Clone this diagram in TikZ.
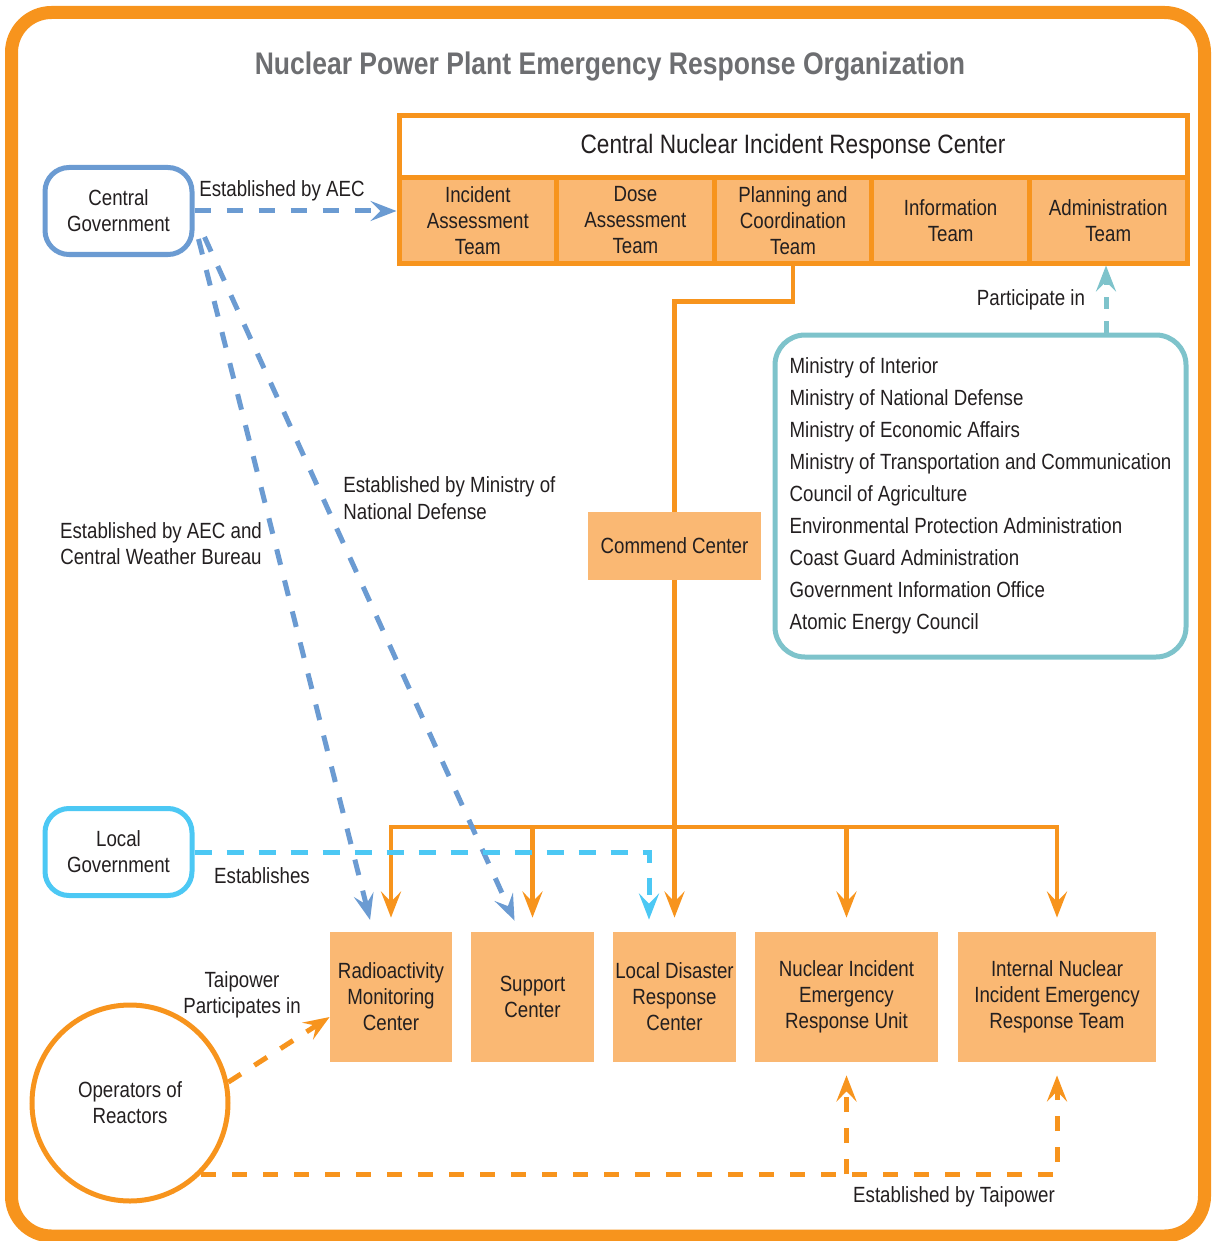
\documentclass[tikz,border=0pt]{standalone}
\usepackage{fontspec}
\setmainfont[FakeStretch=0.85]{Liberation Sans}
\usetikzlibrary{arrows.meta,calc}
\definecolor{orng}{HTML}{F7941D}
\definecolor{lorng}{HTML}{FAB873}
\definecolor{cblue}{HTML}{6B9BD2}
\definecolor{ccyan}{HTML}{4CC8F4}
\definecolor{cteal}{HTML}{7EC3CB}
\definecolor{tgray}{HTML}{6D6E71}
\definecolor{txt}{HTML}{231F20}
\tikzset{
  every node/.style={font=\fontsize{11pt}{13pt}\selectfont, text=txt, inner sep=0pt, align=center},
  teambox/.style={draw=orng, fill=lorng, line width=2.5pt, minimum width=78.8pt, minimum height=42.5pt},
  lowbox/.style={fill=lorng, minimum height=65pt},
  govbox/.style={line width=2.5pt, rounded corners=12pt, minimum width=73.5pt, minimum height=43.5pt, fill=white},
  tip/.style={-{Stealth[length=13pt, width=10pt, inset=5pt]}},
  solidor/.style={draw=orng, line width=2.2pt, tip, color=orng},
  bluedash/.style={cblue, line width=2.5pt, dash pattern=on 8pt off 8pt, tip},
  cyandash/.style={ccyan, line width=2.5pt, dash pattern=on 8.5pt off 7.5pt, tip},
  ordash/.style={orng, line width=2.5pt, dash pattern=on 7.5pt off 8pt, tip},
  tealdash/.style={cteal, line width=2.5pt, dash pattern=on 6pt off 6pt, tip}
}
\begin{document}
\begin{tikzpicture}[x=0.5pt,y=-0.5pt]
\useasboundingbox (0,0) rectangle (1211,1241);
\draw[orng, line width=6.5pt, rounded corners=20pt] (11.5,12.5) rectangle (1204.5,1236);

\node[font=\fontsize{15.6pt}{18pt}\selectfont\bfseries, text=tgray] (title) at (610,67) {Nuclear Power Plant Emergency Response Organization};

% Central center
\node[draw=orng, line width=2.5pt, fill=white, minimum width=394pt, minimum height=31pt, font=\fontsize{13.3pt}{15pt}\selectfont] (crc) at (793,147) {Central Nuclear Incident Response Center};
\node[teambox] (t1) at (477.8,220.5) {Incident\\Assessment\\Team};
\node[teambox] (t2) at (635.4,220.5) {Dose\\Assessment\\Team};
\node[teambox] (t3) at (793,220.5) {Planning and\\Coordination\\Team};
\node[teambox] (t4) at (950.6,220.5) {Information\\Team};
\node[teambox] (t5) at (1108.2,220.5) {Administration\\Team};

% governments
\node[govbox, draw=cblue] (cg) at (118.5,211) {Central\\Government};
\node[govbox, draw=ccyan] (lg) at (118.5,852) {Local\\Government};

% ministry list
\node[draw=cteal, line width=2.5pt, rounded corners=15pt, minimum width=205.5pt, minimum height=161pt, align=left, font=\fontsize{11pt}{16pt}\selectfont] (min) at (980.5,496) {Ministry of Interior\\Ministry of National Defense\\Ministry of Economic Affairs\\Ministry of Transportation and Communication\\Council of Agriculture\\Environmental Protection Administration\\Coast Guard Administration\\Government Information Office\\Atomic Energy Council};

% commend center
\node[fill=lorng, minimum width=86.5pt, minimum height=34pt] (cc) at (674.5,546) {Commend Center};

% lower boxes
\node[lowbox, minimum width=61pt] (rmc) at (391,997) {Radioactivity\\Monitoring\\Center};
\node[lowbox, minimum width=61.5pt] (sc) at (532.5,997) {Support\\Center};
\node[lowbox, minimum width=61.5pt] (ldrc) at (674.5,997) {Local Disaster\\Response\\Center};
\node[lowbox, minimum width=91.5pt] (unit) at (846.5,997) {Nuclear Incident\\Emergency\\Response Unit};
\node[lowbox, minimum width=99pt] (team) at (1057,997) {Internal Nuclear\\Incident Emergency\\Response Team};

% operators
\node[circle, draw=orng, line width=2.5pt, minimum size=98pt] (op) at (130,1103) {Operators of\\Reactors};

% labels
\node (l1) at (282,191) {Established by AEC};
\node[anchor=west, align=left, font=\fontsize{11pt}{13.5pt}\selectfont] (l2) at (343,498) {Established by Ministry of\\National Defense};
\node (l3) at (161,544) {Established by AEC and\\Central Weather Bureau};
\node (l4) at (242,995) {Taipower\\Participates in};
\node (l5) at (1031,300) {Participate in};
\node (l6) at (262,876) {Establishes};
\node (l7) at (954,1197) {Established by Taipower};

% solid orange connectors
\coordinate (bus) at (675,827);
\draw[orng, line width=2.2pt] (t3.south) -- ++(0,36) -| (cc.north);
\draw[solidor, shorten >=7pt] (cc.south) -- (ldrc.north);
\draw[solidor, shorten >=7pt] (bus) -| (rmc.north);
\draw[solidor, shorten >=7pt] (bus -| sc.north) -- (sc.north);
\draw[solidor, shorten >=7pt] (bus) -| (unit.north);
\draw[solidor, shorten >=7pt] (bus) -| (team.north);

% blue dashed
\draw[bluedash] (cg.east) -- (t1.west |- cg.east);
\draw[bluedash, shorten >=6pt] ([shift={(2pt,-14pt)}]cg.east) -- ([xshift=-9pt]rmc.north);
\draw[bluedash, shorten >=6pt] ([shift={(5pt,-13pt)}]cg.east) -- ([xshift=-6.5pt]sc.north);

% cyan dashed
\draw[cyandash, shorten >=6pt] (lg.east) -| ([xshift=-12.75pt]ldrc.north);

% teal dashed
\draw[tealdash] (min.north -| 1106,0) -- (t5.south -| 1106,0);

% orange dashed
\draw[ordash] (op.12) -- ([yshift=-10pt]rmc.west);
\draw[ordash, shorten >=6.5pt] (op.-45) -| (team.south);
\draw[ordash, shorten >=6.5pt] (unit.south |- op.-45) -- (unit.south);
\end{tikzpicture}
\end{document}
